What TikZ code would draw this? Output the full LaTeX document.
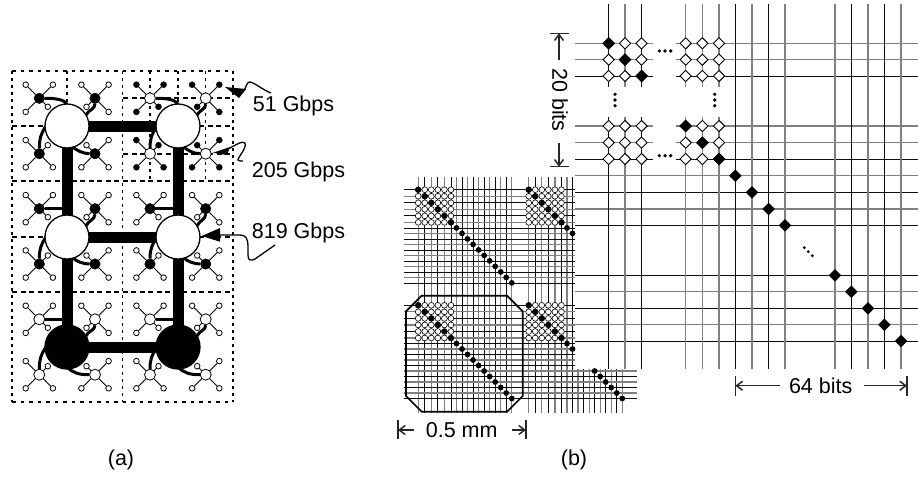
\documentclass[tikz,border=0pt]{standalone}
\usepackage{fontspec}
\setmainfont{Liberation Sans}
\usetikzlibrary{arrows.meta,shapes.geometric}
\tikzset{
  fr/.style={line width=1.5pt,dash pattern=on 3.5pt off 5pt},
  frv/.style={line width=1.5pt,dash pattern=on 2.5pt off 4.5pt},
  frh/.style={line width=1.5pt,dash pattern=on 5pt off 3.5pt},
  cblack/.style={circle,fill=black,draw=black,minimum size=10.5pt,inner sep=0pt},
  cwhite/.style={circle,fill=white,draw=black,line width=.8pt,minimum size=11pt,inner sep=0pt},
  lblack/.style={circle,fill=black,draw=black,minimum size=6pt,inner sep=0pt},
  lwhite/.style={circle,fill=white,draw=black,line width=.8pt,minimum size=5.6pt,inner sep=0pt},
  leafline/.style={line width=.9pt},
  hublink/.style={line width=11pt},
  curvy/.style={line width=3pt},
  hubw/.style={circle,fill=white,draw=black,line width=1.3pt,minimum size=44pt,inner sep=0pt},
  hubb/.style={circle,fill=black,draw=black,line width=1.3pt,minimum size=44pt,inner sep=0pt},
  gl/.style={draw=black!50,line width=1.5pt},
  bl/.style={draw=black!95,line width=.85pt},
  sgl/.style={draw=black!50,line width=1.2pt},
  sbl/.style={draw=black!95,line width=.8pt},
  wd/.style={diamond,fill=white,draw=black,line width=.9pt,minimum width=11.6pt,minimum height=11.6pt,inner sep=0pt},
  bd/.style={diamond,fill=black,draw=black,line width=.9pt,minimum width=11.6pt,minimum height=11.6pt,inner sep=0pt},
  txt/.style={inner sep=0pt,font=\fontsize{21.5}{25}\selectfont},
  tick/.style={line width=1.5pt,black!85},
  dimarrow/.style={line width=1.5pt,black!85,-{Straight Barb[length=6pt,width=9pt]}},
  point/.style={fill=black},
  squig/.style={line width=1.3pt}
}
% tile: name, x, y, inward sx, inward sy, centre style, leaf style
\newcommand\tile[7]{%
  \node[#7] (#1a) at (#2+8.5*#4,#3+8.5*#5) {};
  \node[#7] (#1b) at (#2-13.6*#4,#3+13.6*#5) {};
  \node[#7] (#1c) at (#2+13.6*#4,#3-13.6*#5) {};
  \node[#7] (#1d) at (#2-13.6*#4,#3-13.6*#5) {};
  \node[#6] (#1) at (#2,#3) {};
  \draw[leafline] (#1) -- (#1a) (#1) -- (#1b) (#1) -- (#1c) (#1) -- (#1d);
}
\begin{document}
\begin{tikzpicture}[x=1pt,y=-1pt,
  declare function={sx(\t)=(\t<=5)?6.55*\t:32.75+5.53*(\t-5);sy(\t)=(\t<=5)?6.54*\t:32.7+5.5*(\t-5);}]
\useasboundingbox (0,0) rectangle (918,477);
% ---------- (a) dashed frame
\draw[fr] (12,71) -- (233,71);
\draw[fr] (12,402) -- (233,402);
\draw[frv] (12,71) -- (12,402);
\draw[frv] (233,71) -- (233,402);
\draw[frv] (122.7,71) -- (122.7,402);
\draw[frh] (12,181) -- (233,181);
\draw[frh] (12,292) -- (233,292);
\draw[frh] (12,126) -- (233,126);
\draw[frh] (12,237) -- (233,237);
\draw[frv] (67,71) -- (67,292);
\draw[frv] (178,71) -- (178,292);
\draw[frh] (123,98) -- (233,98);
\draw[frh] (123,154) -- (233,154);
\draw[frv] (150,71) -- (150,181);
\draw[frv] (205.7,71) -- (205.7,181);
% ---------- tiles
\tile{s11}{39.3}{98.3}{1}{1}{cblack}{lwhite}
\tile{s12}{95}{98.3}{-1}{1}{cblack}{lwhite}
\tile{s13}{150}{98.3}{1}{1}{cwhite}{lblack}
\tile{s14}{205.7}{98.3}{-1}{1}{cwhite}{lblack}
\tile{s21}{39.3}{153.7}{1}{-1}{cblack}{lwhite}
\tile{s22}{95}{153.7}{-1}{-1}{cblack}{lwhite}
\tile{s23}{150}{153.7}{1}{-1}{cwhite}{lblack}
\tile{s24}{205.7}{153.7}{-1}{-1}{cwhite}{lblack}
\tile{s31}{39.3}{208.7}{1}{1}{cblack}{lwhite}
\tile{s32}{95}{208.7}{-1}{1}{cblack}{lwhite}
\tile{s33}{150}{208.7}{1}{1}{cblack}{lwhite}
\tile{s34}{205.7}{208.7}{-1}{1}{cblack}{lwhite}
\tile{s41}{39.3}{264}{1}{-1}{cblack}{lwhite}
\tile{s42}{95}{264}{-1}{-1}{cblack}{lwhite}
\tile{s43}{150}{264}{1}{-1}{cblack}{lwhite}
\tile{s44}{205.7}{264}{-1}{-1}{cblack}{lwhite}
\tile{s51}{39.3}{319.3}{1}{1}{cwhite}{lwhite}
\tile{s52}{95}{319.3}{-1}{1}{cwhite}{lwhite}
\tile{s53}{150}{319.3}{1}{1}{cwhite}{lwhite}
\tile{s54}{205.7}{319.3}{-1}{1}{cwhite}{lwhite}
\tile{s61}{39.3}{374.7}{1}{-1}{cwhite}{lwhite}
\tile{s62}{95}{374.7}{-1}{-1}{cwhite}{lwhite}
\tile{s63}{150}{374.7}{1}{-1}{cwhite}{lwhite}
\tile{s64}{205.7}{374.7}{-1}{-1}{cwhite}{lwhite}
% ---------- hubs
\coordinate (h1) at (67,126);
\coordinate (h2) at (178,126);
\coordinate (h3) at (67,237);
\coordinate (h4) at (178,237);
\coordinate (h5) at (67,347);
\coordinate (h6) at (178,347);
\draw[hublink] (h1) -- (h2);
\draw[hublink] (h3) -- (h4);
\draw[hublink] (h5) -- (h6);
\draw[hublink] (h1) -- (h3) -- (h5);
\draw[hublink] (h2) -- (h4) -- (h6);
% curves behind the hubs, each tile centre to its hub
\draw[curvy] (s11.east) to[out=0,in=90,looseness=.8] ([shift={(0,-20)}]h1);
\draw[curvy] (s13.east) to[out=0,in=90,looseness=.8] ([shift={(0,-20)}]h2);
\draw[curvy] (s12.south) to[out=-90,in=65] ([shift={(19,-11)}]h1);
\draw[curvy] (s14.south) to[out=-90,in=65] ([shift={(19,-11)}]h2);
\draw[curvy] (s21.north) to[out=90,in=235] ([shift={(-21,0)}]h1);
\draw[curvy] (s23.north) to[out=90,in=235] ([shift={(-21,0)}]h2);
\draw[curvy] (s22.west) to[out=180,in=-50,looseness=.8] ([shift={(5,20)}]h1);
\draw[curvy] (s24.west) to[out=180,in=-50,looseness=.8] ([shift={(5,20)}]h2);
\draw[curvy] (s31.east) -- (s31.east -| h3);
\draw[curvy] (s33.east) -- (s33.east -| h4);
\draw[curvy] (s32.south) to[out=-90,in=70] ([shift={(19,-11)}]h3);
\draw[curvy] (s34.south) to[out=-90,in=70] ([shift={(19,-11)}]h4);
\draw[curvy] (s41.north) to[out=90,in=235] ([shift={(-21,0)}]h3);
\draw[curvy] (s43.north) to[out=90,in=235] ([shift={(-21,0)}]h4);
\draw[curvy] (s42.west) to[out=180,in=-50,looseness=.8] ([shift={(5,20)}]h3);
\draw[curvy] (s44.west) to[out=180,in=-50,looseness=.8] ([shift={(5,20)}]h4);
\draw[curvy] (s51.east) -- (s51.east -| h5);
\draw[curvy] (s53.east) -- (s53.east -| h6);
\draw[curvy] (s52.south) to[out=-90,in=70] ([shift={(19,-11)}]h5);
\draw[curvy] (s54.south) to[out=-90,in=70] ([shift={(19,-11)}]h6);
\draw[curvy] (s61.north) to[out=90,in=235] ([shift={(-21,0)}]h5);
\draw[curvy] (s63.north) to[out=90,in=235] ([shift={(-21,0)}]h6);
\draw[curvy] (s62.west) to[out=180,in=-45] ([shift={(0,20)}]h5);
\draw[curvy] (s64.west) to[out=180,in=-45] ([shift={(0,20)}]h6);
\node[hubw] (hn1) at (h1) {};
\node[hubw] (hn2) at (h2) {};
\node[hubw] (hn3) at (h3) {};
\node[hubw] (hn4) at (h4) {};
\node[hubb] (hn5) at (h5) {};
\node[hubb] (hn6) at (h6) {};
% ---------- pointers and bandwidth labels
\fill[point] (225,87) -- (246,89) -- (239,98) -- cycle;
\draw[squig] (243,92) .. controls (246,88) and (247,81) .. (250,82) .. controls (255,83) and (263,90) .. (271,93);
\fill[point] (213,152.7) -- (230,147) -- (227,155) -- cycle;
\draw[squig] (228,149) .. controls (234,146) and (243,140) .. (245,143) .. controls (247,148) and (238,157) .. (238,160) .. controls (238,161) and (241,161) .. (243,161);
\fill[point] (201.7,236) -- (220,228) -- (220,241.7) -- cycle;
\draw[squig] (219,235) -- (240,235) .. controls (246,235) and (248,239) .. (248,246) -- (248,255) .. controls (248,261) and (251,261) .. (255,259) -- (275,245);
\node[txt,anchor=base west] (r51) at (252.7,111.7) {51 Gbps};
\node[txt,anchor=base west] (r205) at (251.7,177.3) {205 Gbps};
\node[txt,anchor=base west] (r819) at (251.7,238.3) {819 Gbps};
\node[txt] (capa) at (121,460) {(a)};
\node[txt] (capb) at (574,460) {(b)};
% ---------- (b) small grid
\foreach \i in {0,2,...,16}{\draw[sgl] ({418.2+sx(\i)},176.7) -- ++(0,236.3);}
\foreach \i in {1,3,...,15}{\draw[sbl] ({418.2+sx(\i)},176.7) -- ++(0,236.3);}
\foreach \i in {0,2,4,6}{\draw[sgl] ({528.7+sx(\i)},176.7) -- ++(0,236.3);}
\foreach \i in {1,3,5,7}{\draw[sbl] ({528.7+sx(\i)},176.7) -- ++(0,236.3);}
\foreach \i in {8,10,...,16}{\draw[sgl] ({528.7+sx(\i)},369) -- ({528.7+sx(\i)},413);}
\foreach \i in {9,11,...,15}{\draw[sbl] ({528.7+sx(\i)},369) -- ({528.7+sx(\i)},413);}
\foreach \r in {0,2,...,16}{\draw[sbl] (404,{189.7+sy(\r)}) -- (575,{189.7+sy(\r)});}
\foreach \r in {1,3,...,15}{\draw[sgl] (404,{189.7+sy(\r)}) -- (575,{189.7+sy(\r)});}
\foreach \r in {0,2,...,10}{\draw[sbl] (404,{305.3+sy(\r)}) -- (575,{305.3+sy(\r)});}
\foreach \r in {1,3,...,9}{\draw[sgl] (404,{305.3+sy(\r)}) -- (575,{305.3+sy(\r)});}
\foreach \r in {12,14,16}{\draw[sbl] (404,{305.3+sy(\r)}) -- (636.7,{305.3+sy(\r)});}
\foreach \r in {11,13,15}{\draw[sgl] (404,{305.3+sy(\r)}) -- (636.7,{305.3+sy(\r)});}
% small arrays
\foreach \bx in {418.2,528.7}{\foreach \by in {189.7,305.3}{
  \foreach \i in {0,...,5}{\foreach \j in {0,...,5}{
    \filldraw[fill=white,draw=black,line width=.6pt] ({\bx+sx(\i)},{\by+sy(\j)}) circle[radius=2.9pt];
  }}
  \foreach \i in {0,...,5}{\fill ({\bx+sx(\i)},{\by+sy(\i)}) circle[radius=2.9pt];}
}}
\foreach \i in {6,...,16}{\fill ({418.2+sx(\i)},{189.7+sy(\i)}) circle[radius=2.9pt];
                          \fill ({418.2+sx(\i)},{305.3+sy(\i)}) circle[radius=2.9pt];}
\foreach \i in {6,7}{\fill ({528.7+sx(\i)},{189.7+sy(\i)}) circle[radius=2.9pt];
                     \fill ({528.7+sx(\i)},{305.3+sy(\i)}) circle[radius=2.9pt];}
\foreach \i in {11,...,16}{\fill ({528.7+sx(\i)},{305.3+sy(\i)}) circle[radius=2.9pt];}
% octagon
\draw[line width=1.7pt] (421.7,295.7) -- (507,295.7) -- (522.7,311.4) -- (522.7,396) -- (507,411.7) -- (421.7,411.7) -- (406,396) -- (406,311.4) -- cycle;
% ---------- (b) big grid
\foreach \y in {43.3,59.7,126,142.7}{\draw[gl] (575,\y) -- (652.7,\y); \draw[gl] (675.7,\y) -- (918,\y);}
\foreach \y in {76,159}{\draw[bl] (575,\y) -- (652.7,\y); \draw[bl] (675.7,\y) -- (918,\y);}
\foreach \y in {175.7,209,291.7,324.7}{\draw[gl] (575,\y) -- (918,\y);}
\foreach \y in {192.3,225.3,275.3,308.3,341}{\draw[bl] (575,\y) -- (918,\y);}
\foreach \x in {608.7,641.5}{\draw[bl] (\x,4) -- (\x,87); \draw[bl] (\x,116.7) -- (\x,369);}
\foreach \x in {625,685.7,702.3,719}{\draw[gl] (\x,4) -- (\x,87); \draw[gl] (\x,116.7) -- (\x,369);}
\foreach \x in {735.3,768.7,851.3,884.3}{\draw[bl] (\x,4) -- (\x,369);}
\foreach \x in {752,785,835,868,901}{\draw[gl] (\x,4) -- (\x,369);}
% big diamonds
\foreach \y [count=\n] in {43.3,59.7,76,126,142.7,159}{
  \foreach \x [count=\m] in {608.7,625,641.5,685.7,702.3,719}{
    \node[wd] (w\n-\m) at (\x,\y) {};
  }}
\foreach \x/\y [count=\n] in {608.7/43.3,625/59.7,641.5/76,685.7/126,702.3/142.7,719/159,735.3/175.7,752/192.3,768.7/209,785/225.3,835/275.3,851.3/291.7,868/308.3,884.3/324.7,901/341}{
  \node[bd] (b\n) at (\x,\y) {};
}
% ellipsis dots
\foreach \x/\y in {659.3/51,665/51,670.7/51,659.3/155.7,665/155.7,670.7/155.7,615/94.3,615/100,615/105.7,714.7/94.3,714.7/100,714.7/105.7}{\fill (\x,\y) circle[radius=1.8pt];}
\foreach \x/\y in {804.3/247.7,808.3/251.7,812.3/255.7}{\fill (\x,\y) circle[radius=1.6pt];}
% ---------- dimensions
\coordinate (t20a) at (559,33.3);
\coordinate (t20b) at (559,166.7);
\draw[tick] (550,33.3) -- (569,33.3);
\draw[tick] (550,166.7) -- (569,166.7);
\draw[dimarrow] (559,60) -- (t20a);
\draw[dimarrow] (559,143) -- (t20b);
\node[txt,rotate=-90] (l20) at (560,100) {20 bits};
\coordinate (t64a) at (735.3,385.7);
\coordinate (t64b) at (907,385.7);
\draw[tick] (735.3,376) -- (735.3,395.5);
\draw[tick] (907,376) -- (907,395.5);
\draw[dimarrow] (780,385.7) -- (t64a);
\draw[dimarrow] (864,385.7) -- (t64b);
\node[txt] (l64) at (820.7,385.7) {64 bits};
\coordinate (t05a) at (398,430);
\coordinate (t05b) at (526,430);
\draw[tick] (398,420) -- (398,439);
\draw[tick] (526,420) -- (526,439);
\draw[dimarrow] (414,430) -- (t05a);
\draw[dimarrow] (512,430) -- (t05b);
\node[txt] (l05) at (461.7,430) {0.5 mm};
\end{tikzpicture}
\end{document}
